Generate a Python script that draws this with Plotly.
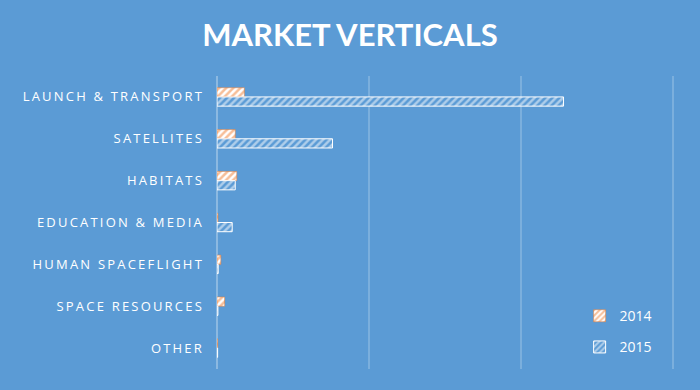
import plotly.graph_objects as go

categories = ["LAUNCH & TRANSPORT", "SATELLITES", "HABITATS", "EDUCATION & MEDIA",
              "HUMAN SPACEFLIGHT", "SPACE RESOURCES", "OTHER"]
values_2014 = [0.18, 0.12, 0.13, 0.006, 0.025, 0.05, 0.004]
values_2015 = [2.28, 0.76, 0.12, 0.10, 0.008, 0.006, 0.004]
series_names = ["2014", "2015"]

BG = "#5B9BD5"
ORANGE = "#ED7D31"

fig = go.Figure()
fig.add_trace(go.Bar(
    y=categories, x=values_2014, name=series_names[0], orientation="h",
    legendgroup="a",
    marker=dict(color="white", line=dict(color=ORANGE, width=0.5),
                pattern=dict(shape="/", fgcolor=ORANGE, fillmode="overlay", size=5, solidity=0.5)),
))
fig.add_trace(go.Bar(
    y=categories, x=values_2015, name=series_names[1], orientation="h",
    legendgroup="b",
    marker=dict(color=BG, line=dict(color="white", width=1),
                pattern=dict(shape="/", fgcolor="white", fillmode="overlay", size=5, solidity=0.5)),
))

fig.update_layout(
    width=700, height=390,
    paper_bgcolor=BG, plot_bgcolor=BG,
    barmode="group", bargap=0.56, bargroupgap=0,
    margin=dict(l=217, r=24, t=76, b=21),
    title=dict(text="<b>MARKET VERTICALS</b>", x=0.5, xanchor="center", y=0.91, yanchor="middle",
               font=dict(family="Lato", size=31, color="white")),
    font=dict(family="Open Sans", color="white"),
    legend=dict(x=0.79, y=0.235, xanchor="left", yanchor="top", traceorder="grouped",
                tracegroupgap=10, bgcolor="rgba(0,0,0,0)",
                font=dict(family="Open Sans", size=14, color="white")),
    xaxis=dict(range=[0, 3.02], dtick=1, showticklabels=False, showgrid=True,
               gridcolor="rgba(255,255,255,0.2)", gridwidth=1.5, zeroline=True,
               zerolinecolor="rgba(255,255,255,0.3)", zerolinewidth=1.5, fixedrange=True),
    yaxis=dict(autorange="reversed", showgrid=False, ticks="", ticklabelstandoff=12,
               tickfont=dict(family="Open Sans", size=13, color="white"), fixedrange=True),
)

post = """
document.body.style.margin='0';
document.body.style.background='#5B9BD5';
var gd = document.getElementsByClassName('plotly-graph-div')[0];
function spacing(){
  document.querySelectorAll('.ytick text').forEach(function(t){ t.style.letterSpacing='2.2px'; });
}
spacing();
if (gd && gd.on) { gd.on('plotly_afterplot', spacing); }
"""

fig.write_html("out.html", post_script=post, config={"displayModeBar": False})
